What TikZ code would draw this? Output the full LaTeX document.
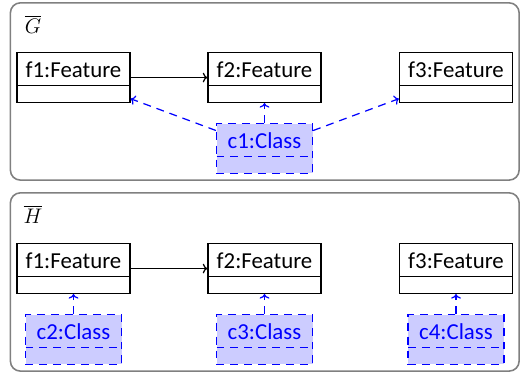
\documentclass[tikz,border=0pt]{standalone}
\usepackage{amsmath}
\usepackage{fontspec}
\setsansfont{Carlito}
\usetikzlibrary{positioning, fit, arrows.meta}

\tikzset{
  >={To[width=5.5pt, length=2.6pt]},
  obj/.style={draw, line width=0.7pt, font=\sffamily\fontsize{13}{15}\selectfont,
    inner xsep=4.3pt, inner ysep=4.8pt, text height=9.2pt, text depth=9.55pt,
    minimum width=2.26cm, anchor=north,
    path picture={\draw[line width=0.7pt]
      ([yshift=9.6pt]path picture bounding box.south west) --
      ([yshift=9.6pt]path picture bounding box.south east);}},
  cls/.style={obj, draw=blue, fill=blue!20, text=blue, minimum width=1.92cm,
    dash pattern=on 4.5pt off 3.4pt,
    path picture={\draw[blue, line width=0.7pt, dash pattern=on 4.5pt off 3.4pt]
      ([yshift=9.6pt]path picture bounding box.south west) --
      ([yshift=9.6pt]path picture bounding box.south east);}},
  trace/.style={draw=blue, line width=0.7pt, dash pattern=on 4.5pt off 3.4pt, ->},
  frame/.style={draw=gray, line width=0.9pt, rounded corners=0.2cm, inner sep=0.12cm},
  lbl/.style={inner sep=0.12cm, font=\fontsize{12}{14}\selectfont},
}

\begin{document}
\begin{tikzpicture}
  \useasboundingbox (0,0) rectangle (10.52,-7.5);

  % G
  \node[lbl] (Glbl) at (0.66,-0.49) {$\overline{G}$};
  \node[obj] (f1G) at (1.47,-1.04) {f1:Feature};
  \node[obj] (f2G) at (5.29,-1.04) {f2:Feature};
  \node[obj] (f3G) at (9.12,-1.04) {f3:Feature};
  \node[cls, below=0.4cm of f2G] (c1) {c1:Class};
  \draw[->, line width=0.7pt] (f1G) -- (f2G);
  \draw[trace] (c1) -- (f1G);
  \draw[trace] (c1) -- (f2G);
  \draw[trace] (c1) -- (f3G);
  \node[frame, fit=(Glbl) (f1G) (f3G) (c1)] (G) {};

  % H
  \node[lbl] (Hlbl) at (0.66,-4.29) {$\overline{H}$};
  \node[obj] (f1H) at (1.47,-4.86) {f1:Feature};
  \node[obj] (f2H) at (5.29,-4.86) {f2:Feature};
  \node[obj] (f3H) at (9.12,-4.86) {f3:Feature};
  \node[cls, below=0.4cm of f1H] (c2) {c2:Class};
  \node[cls, below=0.4cm of f2H] (c3) {c3:Class};
  \node[cls, below=0.4cm of f3H] (c4) {c4:Class};
  \draw[->, line width=0.7pt] (f1H) -- (f2H);
  \draw[trace] (c2) -- (f1H);
  \draw[trace] (c3) -- (f2H);
  \draw[trace] (c4) -- (f3H);
  \node[frame, fit=(Hlbl) (f1H) (f3H) (c2) (c4)] (H) {};
\end{tikzpicture}
\end{document}
